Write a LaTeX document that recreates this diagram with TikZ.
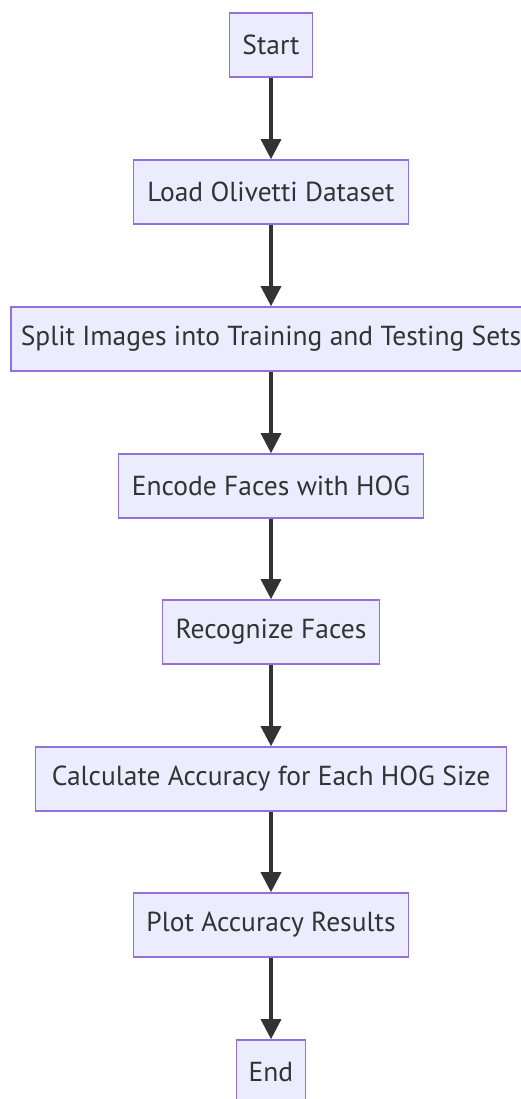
\documentclass[tikz,border=0pt]{standalone}
\usepackage{fontspec}
\setmainfont{PT Sans}
\usetikzlibrary{arrows.meta}
\definecolor{boxfill}{HTML}{ECECFF}
\definecolor{boxline}{HTML}{9370DB}
\definecolor{arrowc}{HTML}{333333}
\tikzset{
  flowbox/.style={draw=boxline, fill=boxfill, line width=1.6pt, minimum height=64pt, inner sep=0pt, text=arrowc, font=\fontsize{27.5}{30}\selectfont},
  flowarrow/.style={draw=arrowc, line width=3.3pt, -{Triangle[length=20pt,width=20pt]}}
}
\begin{document}
\begin{tikzpicture}[x=1pt,y=-1pt]
\useasboundingbox (0,0) rectangle (521,1099);
\node[flowbox, minimum width=83pt] (start) at (271,45) {Start};
\node[flowbox, minimum width=275pt] (load) at (271,192) {Load Olivetti Dataset};
\node[flowbox, minimum width=520pt] (split) at (271,339) {Split Images into Training and Testing Sets};
\node[flowbox, minimum width=305pt] (encode) at (271,486) {Encode Faces with HOG};
\node[flowbox, minimum width=217pt] (recog) at (271,632) {Recognize Faces};
\node[flowbox, minimum width=471pt] (calc) at (271,779) {Calculate Accuracy for Each HOG Size};
\node[flowbox, minimum width=275pt] (plot) at (271,925) {Plot Accuracy Results};
\node[flowbox, minimum width=69pt] (end) at (271,1072) {End};
\draw[flowarrow] (start) -- (load);
\draw[flowarrow] (load) -- (split);
\draw[flowarrow] (split) -- (encode);
\draw[flowarrow] (encode) -- (recog);
\draw[flowarrow] (recog) -- (calc);
\draw[flowarrow] (calc) -- (plot);
\draw[flowarrow] (plot) -- (end);
\end{tikzpicture}
\end{document}
